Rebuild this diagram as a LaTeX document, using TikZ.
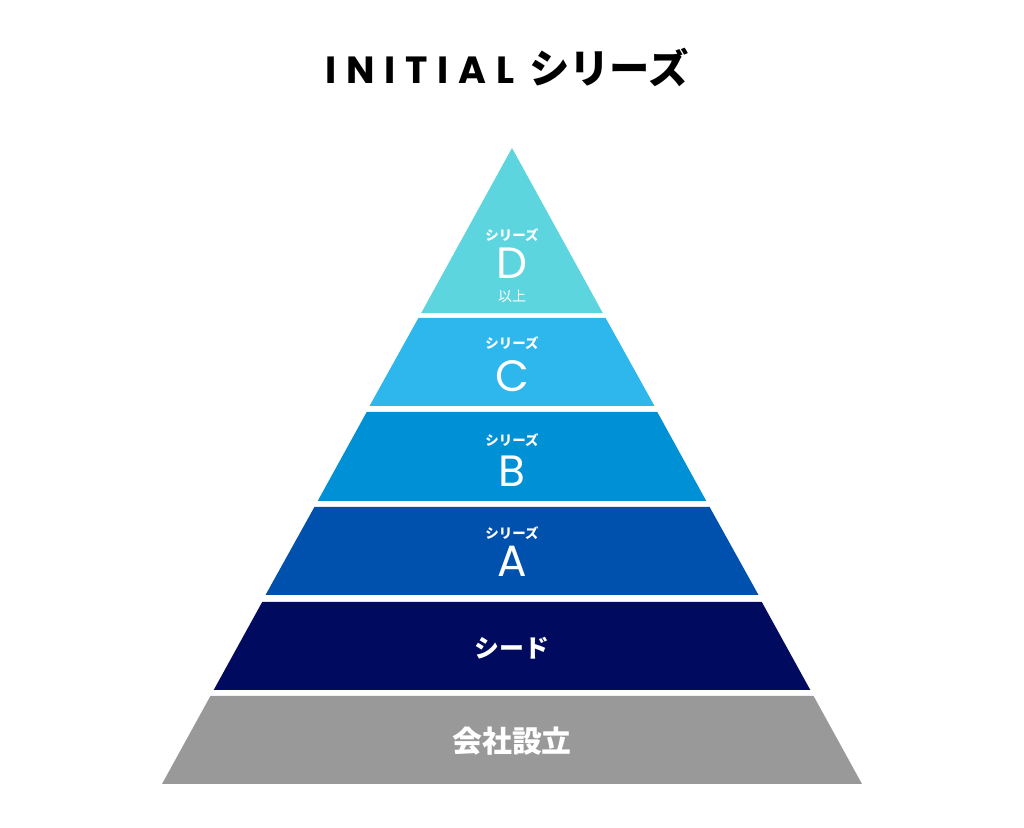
\documentclass[tikz,border=0pt]{standalone}
\usepackage{fontspec}
\setmainfont{Poppins}
\newfontfamily\jp{Noto Sans CJK JP}
\newfontfamily\titlefont[LetterSpace=26]{Poppins}
\definecolor{colD}{HTML}{5DD5DF}
\definecolor{colC}{HTML}{2DB7EC}
\definecolor{colB}{HTML}{0090D5}
\definecolor{colA}{HTML}{0050AE}
\definecolor{colSeed}{HTML}{000A5E}
\definecolor{colFound}{HTML}{999999}
\tikzset{
  small/.style={text=white,inner sep=0pt,font=\jp\bfseries\fontsize{13.5}{13.5}\selectfont},
  big/.style={text=white,inner sep=0pt,anchor=base,font=\fontsize{44}{44}\selectfont},
  stage/.style={text=white,inner sep=0pt,font=\jp\bfseries\fontsize{25}{25}\selectfont},
}
\begin{document}
\begin{tikzpicture}[line join=bevel,]
\useasboundingbox (0bp,0bp) rectangle (1024bp,828bp);
%%
\node (title_latin) at (325bp,744bp) [inner sep=0pt,anchor=base west,font=\titlefont\bfseries\fontsize{38}{38}\selectfont] {INITIAL};
\node (title_jp) at (529bp,744bp) [inner sep=0pt,anchor=base west,font=\jp\bfseries\fontsize{40.5}{40.5}\selectfont] {シリーズ};
%
\fill [colD] (512bp,680bp) -- (602.8bp,515bp) -- (421.2bp,515bp) -- cycle;
\fill [colC] (418.4bp,510bp) -- (605.6bp,510bp) -- (654.5bp,422bp) -- (369.5bp,422bp) -- cycle;
\fill [colB] (366.7bp,416bp) -- (657.3bp,416bp) -- (706.3bp,327bp) -- (317.7bp,327bp) -- cycle;
\fill [colA] (314.4bp,321bp) -- (709.6bp,321bp) -- (758.5bp,233bp) -- (265.5bp,233bp) -- cycle;
\fill [colSeed] (262.2bp,226bp) -- (761.8bp,226bp) -- (810.3bp,138bp) -- (213.7bp,138bp) -- cycle;
\fill [colFound] (210.4bp,132bp) -- (813.6bp,132bp) -- (862bp,44bp) -- (162bp,44bp) -- cycle;
%
\node (series_d) at (512bp,593bp) [small] {シリーズ};
\node (letter_d) at (512bp,549bp) [big] {D};
\node (above_d) at (512bp,531bp) [small,font=\jp\fontsize{14}{14}\selectfont,text height=10bp,text depth=1bp] {以上};
\node (series_c) at (512bp,485bp) [small] {シリーズ};
\node (letter_c) at (512bp,436bp) [big] {C};
\node (series_b) at (512bp,388bp) [small] {シリーズ};
\node (letter_b) at (512bp,341bp) [big] {B};
\node (series_a) at (512bp,295bp) [small] {シリーズ};
\node (letter_a) at (512bp,251bp) [big] {A};
\node (seed) at (512bp,180bp) [stage] {シード};
\node (found) at (512bp,87bp) [stage,font=\jp\bfseries\fontsize{30}{30}\selectfont] {会社設立};
%
\end{tikzpicture}
\end{document}
